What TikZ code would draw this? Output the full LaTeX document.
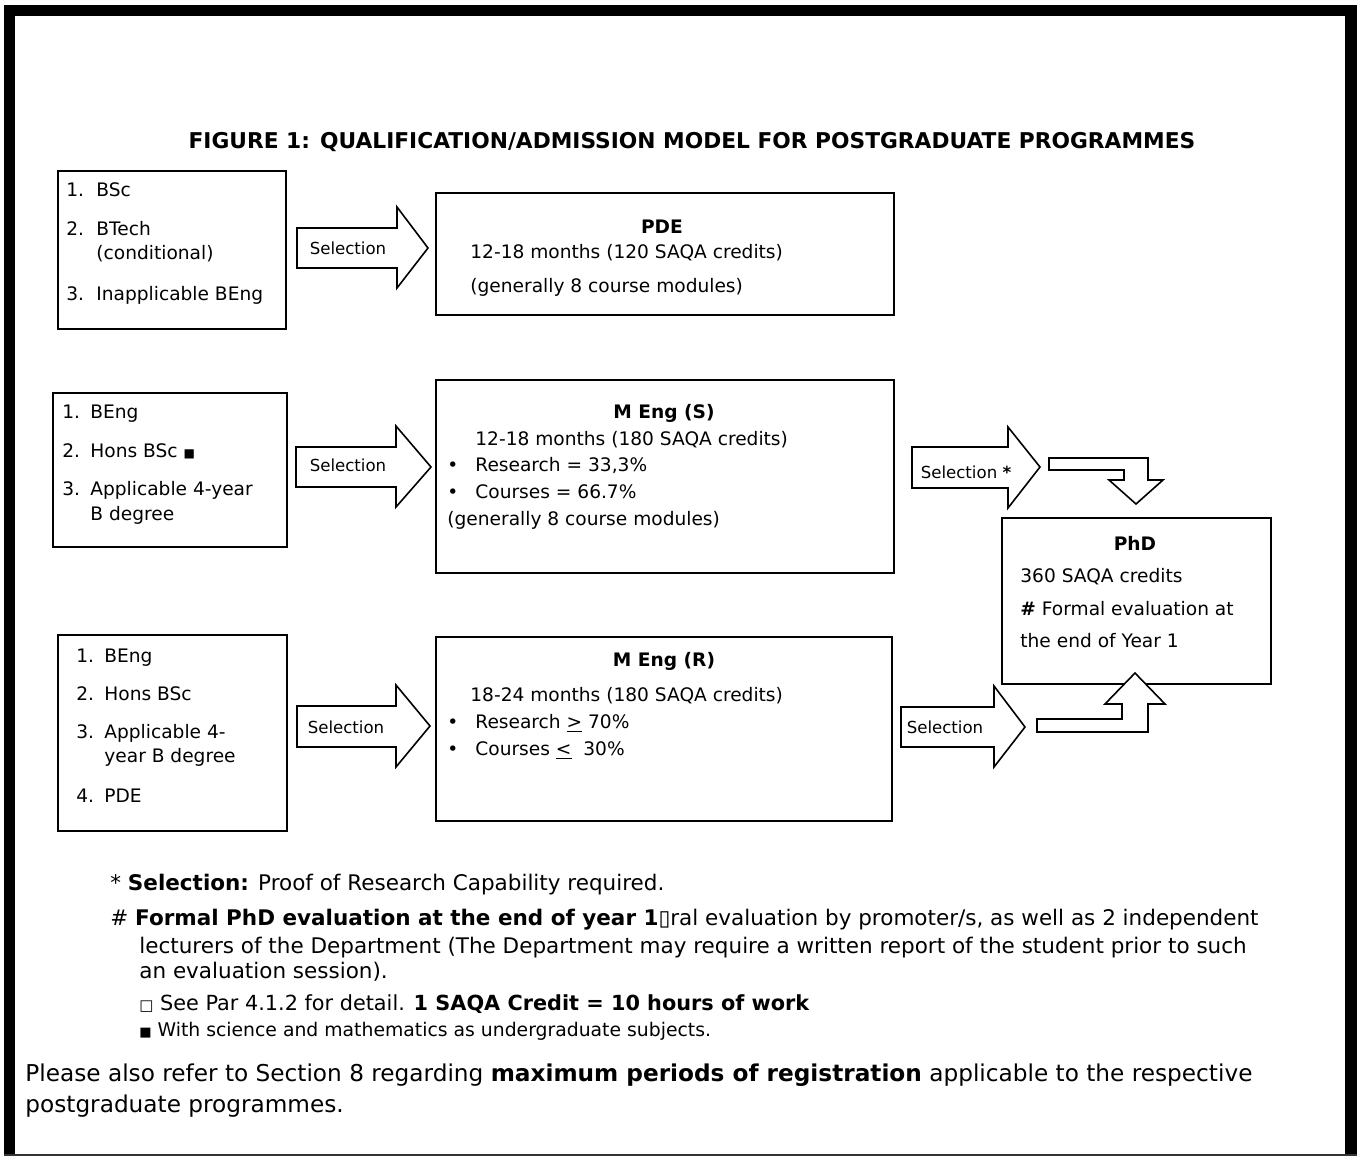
\documentclass[tikz,border=0pt]{standalone}
\usepackage{fontspec}
\setmainfont{DejaVu Sans}
\begin{document}
\begin{tikzpicture}[x=0.5pt,y=-0.5pt,
  box/.style={draw, line width=1pt, inner sep=0pt, anchor=north west},
  blockarrow/.style={draw, line width=0.8pt, fill=white, line join=miter},
  txt/.style={inner sep=0pt, anchor=mid west, font=\fontsize{9.3}{11}\selectfont},
  ctxt/.style={inner sep=0pt, anchor=mid, font=\bfseries\fontsize{9.3}{11}\selectfont},
  sel/.style={inner sep=0pt, anchor=mid, font=\fontsize{8.3}{10}\selectfont},
  foot/.style={inner sep=0pt, anchor=mid west, font=\fontsize{10.75}{12}\selectfont},
  big/.style={inner sep=0pt, anchor=mid west, font=\fontsize{11.6}{13}\selectfont}]
\useasboundingbox (0,0) rectangle (1357,1158);
% frame
\fill[black] (4,5) rectangle (15,1156);
\fill[black] (4,5) rectangle (1357,16);
\fill[black] (1345,5) rectangle (1357,1156);
\draw[line width=0.6pt, black!80] (4,1155) -- (1357,1155);

% title
\node[inner sep=0pt, font=\bfseries\fontsize{10.87}{12}\selectfont] (title) at (692,142) {FIGURE 1: QUALIFICATION/ADMISSION MODEL FOR POSTGRADUATE PROGRAMMES};

% ---------- row 1
\node[box, minimum width=114pt, minimum height=79pt] (a1) at (57,170) {};
\node[txt] (a1t1) at (66,191) {1.};
\node[txt] (a1t1b) at (96,191) {BSc};
\node[txt] (a1t2) at (66,230) {2.};
\node[txt] (a1t2b) at (96,230) {BTech};
\node[txt] (a1t2c) at (96,254) {(conditional)};
\node[txt] (a1t3) at (66,295) {3.};
\node[txt] (a1t3b) at (96,295) {Inapplicable BEng};

\draw[blockarrow] (297,228) -- (397,228) -- (397,207) -- (428,248) -- (397,288) -- (397,268) -- (297,268) -- cycle;
\node[sel] (s1) at (348,249) {Selection};

\node[box, minimum width=229pt, minimum height=61pt] (pde) at (435,192) {};
\node[ctxt] (pdeh) at (662,228) {PDE};
\node[txt] (pde1) at (470,253) {12-18 months (120 SAQA credits)};
\node[txt] (pde2) at (470,287) {(generally 8 course modules)};

% ---------- row 2
\node[box, minimum width=117pt, minimum height=77pt] (b1) at (52,392) {};
\node[txt] (b1t1) at (62,413) {1.};
\node[txt] (b1t1b) at (90,413) {BEng};
\node[txt] (b1t2) at (62,452) {2.};
\node[txt] (b1t2b) at (90,452) {Hons BSc {\fontsize{6}{7}\selectfont ■}};
\node[txt] (b1t3) at (62,490) {3.};
\node[txt] (b1t3b) at (90,490) {Applicable 4-year};
\node[txt] (b1t3c) at (90,515) {B degree};

\draw[blockarrow] (296,447) -- (396,447) -- (396,426) -- (431,467) -- (396,507) -- (396,487) -- (296,487) -- cycle;
\node[sel] (s2) at (348,466) {Selection};

\node[box, minimum width=229pt, minimum height=96.5pt] (ms) at (435,379) {};
\node[ctxt] (msh) at (664,413) {M Eng (S)};
\node[txt] (ms1) at (475,440) {12-18 months (180 SAQA credits)};
\node[txt] (msb1) at (447,466) {•};
\node[txt] (ms2) at (475,466) {Research = 33,3\%};
\node[txt] (msb2) at (447,493) {•};
\node[txt] (ms3) at (475,493) {Courses = 66.7\%};
\node[txt] (ms4) at (447,520) {(generally 8 course modules)};

% ---------- row 3
\node[box, minimum width=114.5pt, minimum height=98pt] (c1) at (57,634) {};
\node[txt] (c1t1) at (76,657) {1.};
\node[txt] (c1t1b) at (104,657) {BEng};
\node[txt] (c1t2) at (76,695) {2.};
\node[txt] (c1t2b) at (104,695) {Hons BSc};
\node[txt] (c1t3) at (76,733) {3.};
\node[txt] (c1t3b) at (104,733) {Applicable 4-};
\node[txt] (c1t3c) at (104,757) {year B degree};
\node[txt] (c1t4) at (76,797) {4.};
\node[txt] (c1t4b) at (104,797) {PDE};

\draw[blockarrow] (297,706) -- (396,706) -- (396,685) -- (430,726) -- (396,767) -- (396,747) -- (297,747) -- cycle;
\node[sel] (s3) at (346,728) {Selection};

\node[box, minimum width=228pt, minimum height=92pt] (mr) at (435,636) {};
\node[ctxt] (mrh) at (664,661) {M Eng (R)};
\node[txt] (mr1) at (470,696) {18-24 months (180 SAQA credits)};
\node[txt] (mrb1) at (447,723) {•};
\node[txt] (mr2) at (475,723) {Research \underline{>} 70\%};
\node[txt] (mrb2) at (447,750) {•};
\node[txt] (mr3) at (475,750) {Courses \underline{<}\ \ 30\%};

% ---------- PhD
\node[box, minimum width=134.5pt, minimum height=83pt] (phd) at (1001,517) {};
\node[ctxt] (phdh) at (1135,545) {PhD};
\node[txt] (phd1) at (1020,577) {360 SAQA credits};
\node[txt] (phd2) at (1020,610) {\textbf{\#} Formal evaluation at};
\node[txt] (phd3) at (1020,642) {the end of Year 1};

% Selection * arrow and bent arrow (top)
\draw[blockarrow] (912,447) -- (1008,447) -- (1008,427) -- (1040,467) -- (1008,508) -- (1008,488) -- (912,488) -- cycle;
\node[sel] (s4) at (966,473) {Selection \textbf{*}};
\draw[blockarrow] (1049,458) -- (1148,458) -- (1148,480) -- (1163,480) -- (1136,504) -- (1109,480) -- (1124,480) -- (1124,470) -- (1049,470) -- cycle;

% bottom Selection arrow and bent arrow
\draw[blockarrow] (901,707) -- (994,707) -- (994,686) -- (1025,727) -- (994,767) -- (994,747) -- (901,747) -- cycle;
\node[sel] (s5) at (945,728) {Selection};
\draw[blockarrow] (1037,732) -- (1148,732) -- (1148,704) -- (1165,704) -- (1135,673) -- (1105,704) -- (1122,704) -- (1122,719) -- (1037,719) -- cycle;

% ---------- footnotes
\node[foot] (f1) at (110,885) {* \textbf{Selection:} Proof of Research Capability required.};
\node[foot] (f2) at (110,920) {\# \textbf{Formal PhD evaluation at the end of year 1}▯ral evaluation by promoter/s, as well as 2 independent};
\node[foot] (f3) at (139,948) {lecturers of the Department (The Department may require a written report of the student prior to such};
\node[foot] (f4) at (139,973) {an evaluation session).};
\node[foot, font=\fontsize{10.4}{12}\selectfont] (f5) at (139,1005) {{\fontsize{7.5}{8}\selectfont □} See Par 4.1.2 for detail. \textbf{1 SAQA Credit = 10 hours of work}};
\node[foot, font=\fontsize{9.4}{11}\selectfont] (f6) at (139,1031) {{\fontsize{6.5}{7}\selectfont ■} With science and mathematics as undergraduate subjects.};

\node[big] (p1) at (25,1076) {Please also refer to Section 8 regarding \textbf{maximum periods of registration} applicable to the respective};
\node[big] (p2) at (25,1107) {postgraduate programmes.};
\end{tikzpicture}
\end{document}
